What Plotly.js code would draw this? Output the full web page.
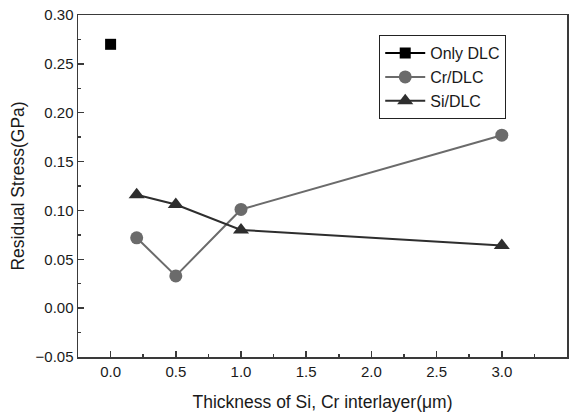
<!DOCTYPE html>
<html><head><meta charset="utf-8">
<script src="https://cdn.plot.ly/plotly-3.0.1.min.js"></script>
<style>html,body{margin:0;padding:0;background:#fff}#c{width:574px;height:415px}</style>
</head><body><div id="c"></div>
<script>
const onlyX = [0];
const onlyY = [0.27];
const crX = [0.2, 0.5, 1.0, 3.0];
const crY = [0.072, 0.033, 0.101, 0.177];
const siX = [0.2, 0.5, 1.0, 3.0];
const siY = [0.116, 0.106, 0.080, 0.064];
const names = ['Only DLC', 'Cr/DLC', 'Si/DLC'];

const font = {family: 'Liberation Sans, Arial, sans-serif', color: '#1a1a1a'};
const traces = [
  {x: onlyX, y: onlyY, name: names[0], mode: 'lines+markers',
   line: {color: '#000', width: 2}, marker: {symbol: 'square', size: 11, color: '#000'}},
  {x: crX, y: crY, name: names[1], mode: 'lines+markers',
   line: {color: '#6b6b6b', width: 2}, marker: {symbol: 'circle', size: 13, color: '#6b6b6b'}},
  {x: siX, y: siY, name: names[2], mode: 'lines+markers',
   line: {color: '#2e2e2e', width: 2}, marker: {symbol: 'triangle-up', size: 14, color: '#2e2e2e'}}
];
const layout = {
  width: 574, height: 415,
  margin: {l: 78, r: 7, t: 15, b: 58},
  paper_bgcolor: '#fff', plot_bgcolor: '#fff',
  font: Object.assign({size: 15}, font),
  showlegend: true,
  legend: {x: 0.616, xanchor: 'left', y: 0.941, yanchor: 'top',
    bordercolor: '#222', borderwidth: 1, bgcolor: '#fff',
    font: Object.assign({size: 16}, font), tracegroupgap: 0, itemwidth: 40},
  xaxis: {range: [-0.25, 3.5], dtick: 0.5, tick0: 0, tickformat: '.1f',
    showgrid: false, zeroline: false, showline: true, linecolor: '#3a3a3a', linewidth: 1.5,
    mirror: true, ticks: 'inside', ticklen: 6, tickcolor: '#3a3a3a', tickwidth: 1.5,
    minor: {ticks: 'inside', ticklen: 3, dtick: 0.25, tickcolor: '#3a3a3a', tickwidth: 1.5, showgrid: false},
    tickfont: Object.assign({size: 15}, font),
    title: {text: '\u00a0\u00a0\u00a0\u00a0Thickness of Si, Cr interlayer(μm)', font: Object.assign({size: 17.5}, font), standoff: 17}},
  yaxis: {range: [-0.05, 0.30], dtick: 0.05, tick0: 0, tickformat: '.2f',
    showgrid: false, zeroline: false, showline: true, linecolor: '#3a3a3a', linewidth: 1.5,
    mirror: true, ticks: 'inside', ticklen: 6, tickcolor: '#3a3a3a', tickwidth: 1.5,
    minor: {ticks: 'inside', ticklen: 3, dtick: 0.025, tickcolor: '#3a3a3a', tickwidth: 1.5, showgrid: false},
    tickfont: Object.assign({size: 15}, font),
    title: {text: 'Residual Stress(GPa)', font: Object.assign({size: 17.5}, font), standoff: 6}}
};
Plotly.newPlot('c', traces, layout, {displayModeBar: false, staticPlot: true});
</script></body></html>
